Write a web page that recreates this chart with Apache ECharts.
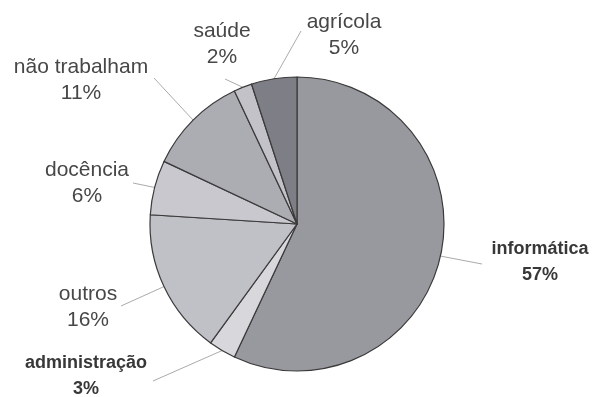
<!DOCTYPE html>
<html>
<head>
<meta charset="utf-8">
<script src="https://cdn.jsdelivr.net/npm/echarts@6/dist/echarts.min.js"></script>
<style>
html,body{margin:0;padding:0;background:#fff;}
#c{width:594px;height:397px;}
</style>
</head>
<body>
<div id="c"></div>
<script>
const categories = ['informática', 'administração', 'outros', 'docência', 'não trabalham', 'saúde', 'agrícola'];
const values = [57, 3, 16, 6, 11, 2, 5];
const boldLabels = ['informática', 'administração'];

const colors = ['#98989f', '#d8d8dc', '#c0c0c7', '#c8c8ce', '#acacb3', '#c2c2c8', '#7e7e86'];
// label block centres and leader-line end points (pixel layout)
const labelCenters = [[540, 262], [86, 376], [88, 307], [87, 183], [81, 80], [222, 44], [344, 35]];
const lineEnds = [[482, 264], [153, 381], [121, 306], [133, 183], [154, 78], [225, 79], [301, 31]];

const chart = echarts.init(document.getElementById('c'), null, {renderer: 'canvas'});
chart.setOption({
  backgroundColor: '#ffffff',
  animation: false,
  series: [{
    type: 'pie',
    center: [297, 224],
    radius: 147,
    startAngle: 90,
    clockwise: true,
    avoidLabelOverlap: false,
    itemStyle: {borderColor: '#3a3a3a', borderWidth: 1.2},
    label: {
      show: true,
      formatter: '{b}\n{c}%',
      fontFamily: 'Liberation Sans, Arial, sans-serif',
      fontSize: 21,
      lineHeight: 26,
      color: '#474747',
      align: 'center'
    },
    labelLine: {show: true, length: 10, length2: 10, smooth: false,
      lineStyle: {color: '#ababab', width: 1}},
    labelLayout: function (p) {
      const i = p.dataIndex;
      const start = p.labelLinePoints ? p.labelLinePoints[0] : null;
      const res = {x: labelCenters[i][0], y: labelCenters[i][1], align: 'center', verticalAlign: 'middle'};
      if (start) {
        res.labelLinePoints = [start, lineEnds[i], lineEnds[i]];
      }
      return res;
    },
    data: categories.map((name, i) => ({
      name: name,
      value: values[i],
      itemStyle: {color: colors[i]},
      label: boldLabels.includes(name) ? {fontWeight: 'bold', fontSize: 18, lineHeight: 26, color: '#383838'} : {}
    }))
  }]
});
</script>
</body>
</html>
